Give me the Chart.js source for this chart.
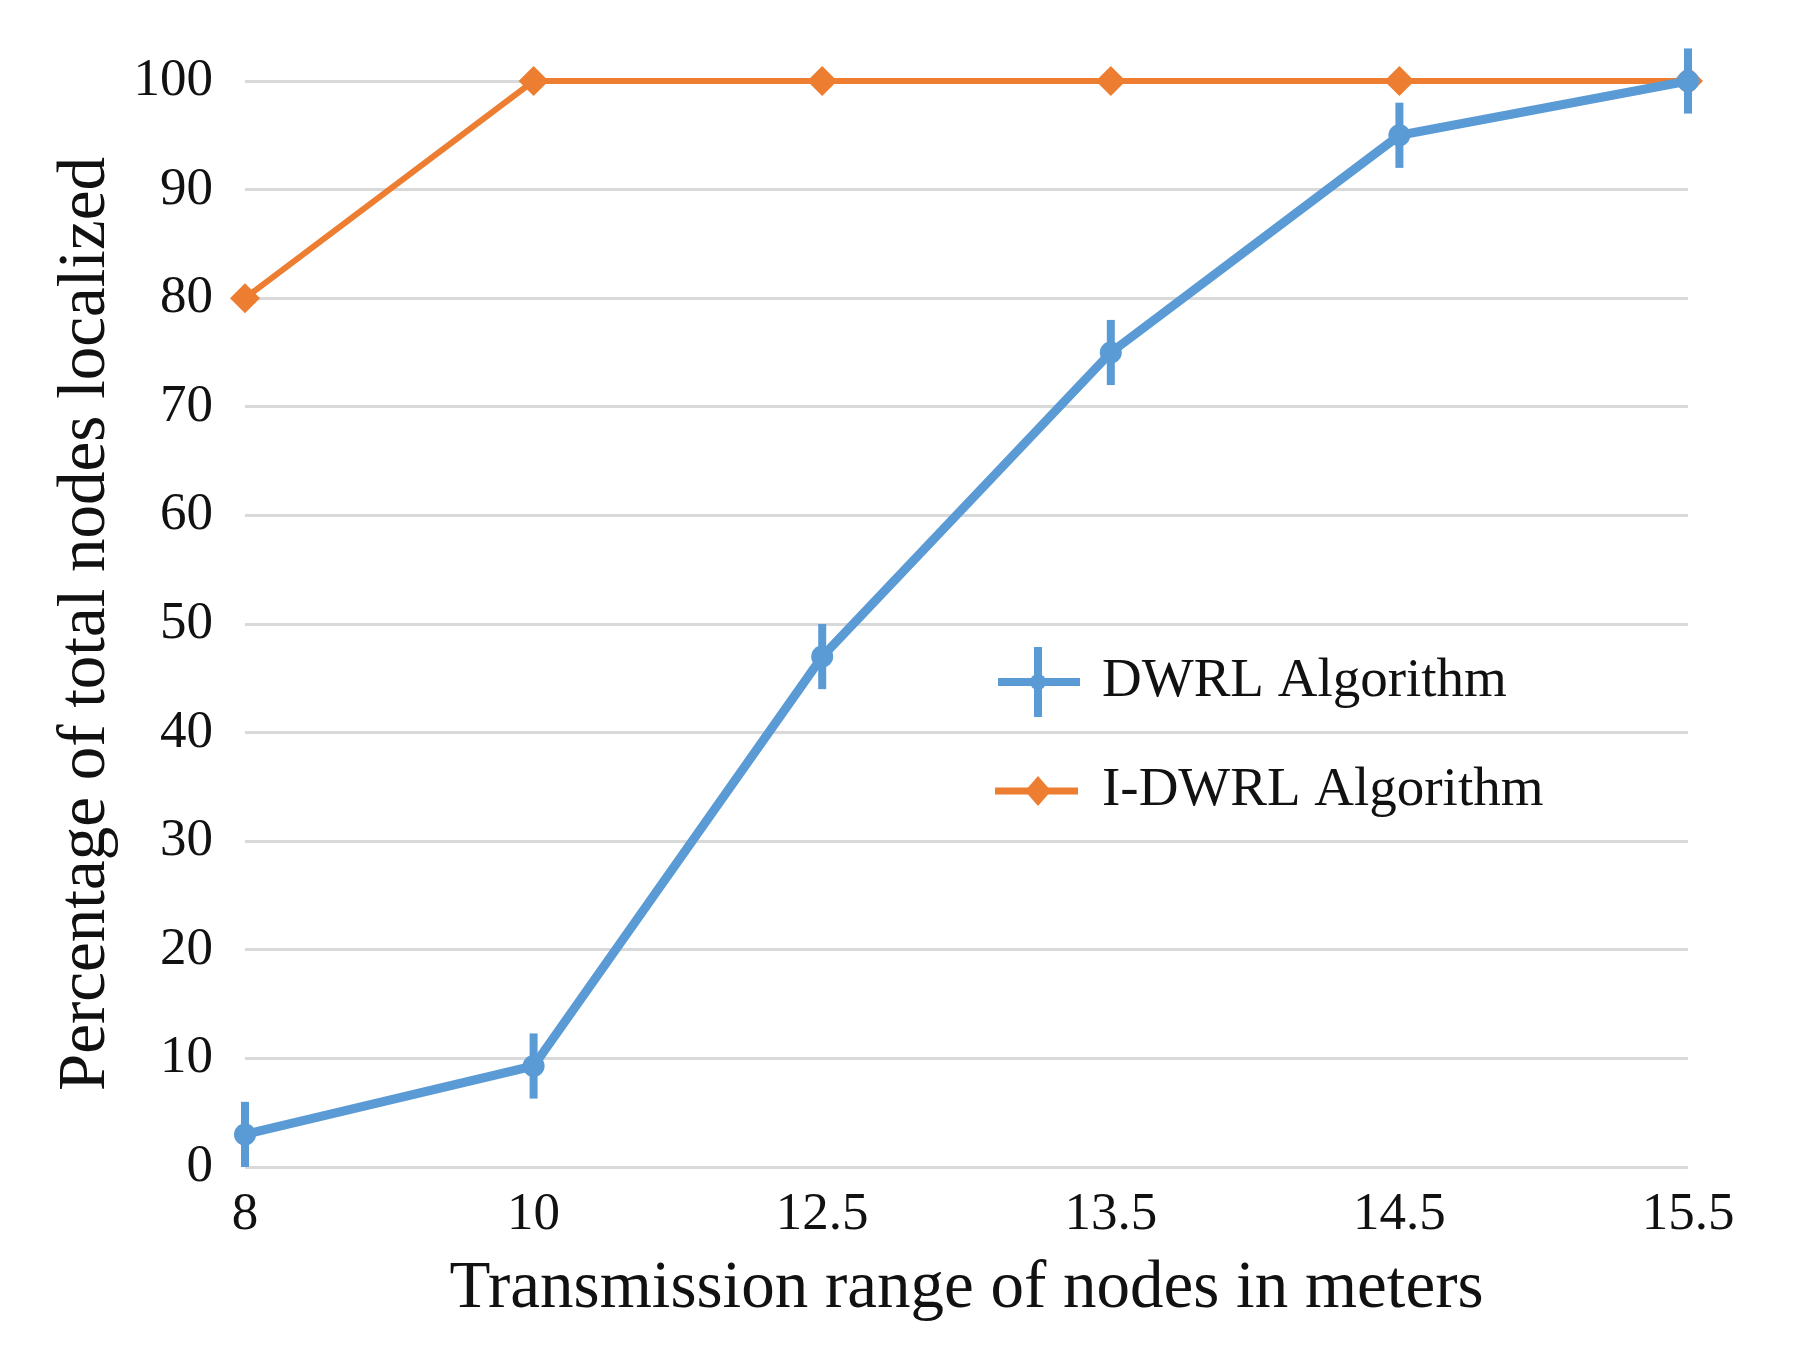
<!DOCTYPE html>
<html>
<head>
<meta charset="utf-8">
<script src="https://cdn.jsdelivr.net/npm/chart.js@4/dist/chart.umd.min.js"></script>
<style>
  html, body { margin: 0; padding: 0; background: #fff; }
  #wrap { width: 1804px; height: 1361px; position: relative; }
</style>
</head>
<body>
<div id="wrap"><canvas id="c"></canvas></div>
<script>
// ---- data ----
const categories = ['8', '10', '12.5', '13.5', '14.5', '15.5'];
const dwrlValues = [3, 9.3, 47, 75, 95, 100];
const dwrlErrors = [3, 3, 3, 3, 3, 3];
const idwrlValues = [80, 100, 100, 100, 100, 100];
const yTicks = [0, 10, 20, 30, 40, 50, 60, 70, 80, 90, 100];
const seriesNames = ['DWRL Algorithm', 'I-DWRL Algorithm'];
const axisTitles = { x: 'Transmission range of nodes in meters', y: 'Percentage of total nodes localized' };

const BLUE = '#5b9bd5';
const ORANGE = '#ed7d31';
const FONT = "'Liberation Serif', 'Times New Roman', serif";

const errorBarPlugin = {
  id: 'errorBars',
  afterDatasetsDraw(chart) {
    const ctx = chart.ctx;
    const xs = chart.scales.x, ys = chart.scales.y;
    ctx.save();
    ctx.strokeStyle = BLUE;
    ctx.lineWidth = 8;
    ctx.lineCap = 'butt';
    dwrlValues.forEach((v, i) => {
      const x = xs.getPixelForValue(i);
      const y1 = ys.getPixelForValue(Math.max(0, v - dwrlErrors[i]));
      const y2 = ys.getPixelForValue(v + dwrlErrors[i]);
      ctx.beginPath();
      ctx.moveTo(x, y1);
      ctx.lineTo(x, y2);
      ctx.stroke();
    });
    ctx.restore();
  }
};

const legendPlugin = {
  id: 'innerLegend',
  afterDraw(chart) {
    const ctx = chart.ctx;
    const ds = chart.data.datasets;
    ctx.save();
    ctx.font = "55px " + FONT;
    ctx.textBaseline = 'middle';
    ctx.textAlign = 'left';
    const rows = [682, 791];
    const x0 = 998, x1 = 1080, xc = 1038, tx = 1102;
    // DWRL
    let y = rows[0];
    ctx.strokeStyle = ds[0].borderColor;
    ctx.lineWidth = 8;
    ctx.beginPath(); ctx.moveTo(x0, y); ctx.lineTo(x1, y); ctx.stroke();
    ctx.beginPath(); ctx.moveTo(xc, y - 35); ctx.lineTo(xc, y + 35); ctx.stroke();
    ctx.fillStyle = ds[0].borderColor;
    ctx.beginPath(); ctx.arc(xc, y, 8, 0, Math.PI * 2); ctx.fill();
    ctx.fillStyle = '#111';
    ctx.fillText(ds[0].label, tx, y);
    // I-DWRL
    y = rows[1];
    ctx.strokeStyle = ds[1].borderColor;
    ctx.lineWidth = 7;
    ctx.beginPath(); ctx.moveTo(x0 - 3, y); ctx.lineTo(x1 - 2, y); ctx.stroke();
    ctx.fillStyle = ds[1].borderColor;
    const rx = 13, ry = 15;
    ctx.beginPath();
    ctx.moveTo(xc - rx, y); ctx.lineTo(xc, y - ry); ctx.lineTo(xc + rx, y); ctx.lineTo(xc, y + ry);
    ctx.closePath(); ctx.fill();
    ctx.fillStyle = '#111';
    ctx.fillText(ds[1].label, tx, y);
    ctx.restore();
  }
};

new Chart(document.getElementById('c'), {
  type: 'line',
  data: {
    labels: categories,
    datasets: [
      {
        label: seriesNames[0],
        data: dwrlValues,
        borderColor: BLUE,
        backgroundColor: BLUE,
        borderWidth: 9,
        pointStyle: 'circle',
        pointRadius: 11,
        pointBorderWidth: 0,
        tension: 0,
        clip: false
      },
      {
        label: seriesNames[1],
        data: idwrlValues,
        borderColor: ORANGE,
        backgroundColor: ORANGE,
        borderWidth: 6,
        pointStyle: 'rectRot',
        pointRadius: 15,
        pointBorderWidth: 0,
        tension: 0,
        clip: false
      }
    ]
  },
  options: {
    responsive: true,
    maintainAspectRatio: false,
    animation: false,
    devicePixelRatio: 1,
    layout: { padding: { left: 40, top: 81, right: 116, bottom: 31 } },
    plugins: { legend: { display: false }, tooltip: { enabled: false } },
    scales: {
      x: {
        type: 'category',
        offset: false,
        grid: { display: false, drawTicks: false },
        border: { display: false },
        ticks: { font: { family: FONT, size: 53 }, color: '#111', padding: 16, maxRotation: 0, autoSkip: false },
        title: { display: true, text: axisTitles.x, font: { family: FONT, size: 67 }, color: '#111', padding: { top: 2, bottom: 0 } },
        afterFit(s) { s.height = 163; }
      },
      y: {
        min: 0,
        max: 100,
        afterBuildTicks(s) { s.ticks = yTicks.map(v => ({ value: v })); },
        grid: { color: '#d9d9d9', lineWidth: 3, drawTicks: false },
        border: { display: false },
        ticks: { font: { family: FONT, size: 53 }, color: '#111', padding: 32 },
        title: { display: true, text: axisTitles.y, font: { family: FONT, size: 67 }, color: '#111', padding: { top: 6, bottom: 0 } },
        afterFit(s) { s.width = 205; }
      }
    }
  },
  plugins: [errorBarPlugin, legendPlugin]
});
</script>
</body>
</html>
